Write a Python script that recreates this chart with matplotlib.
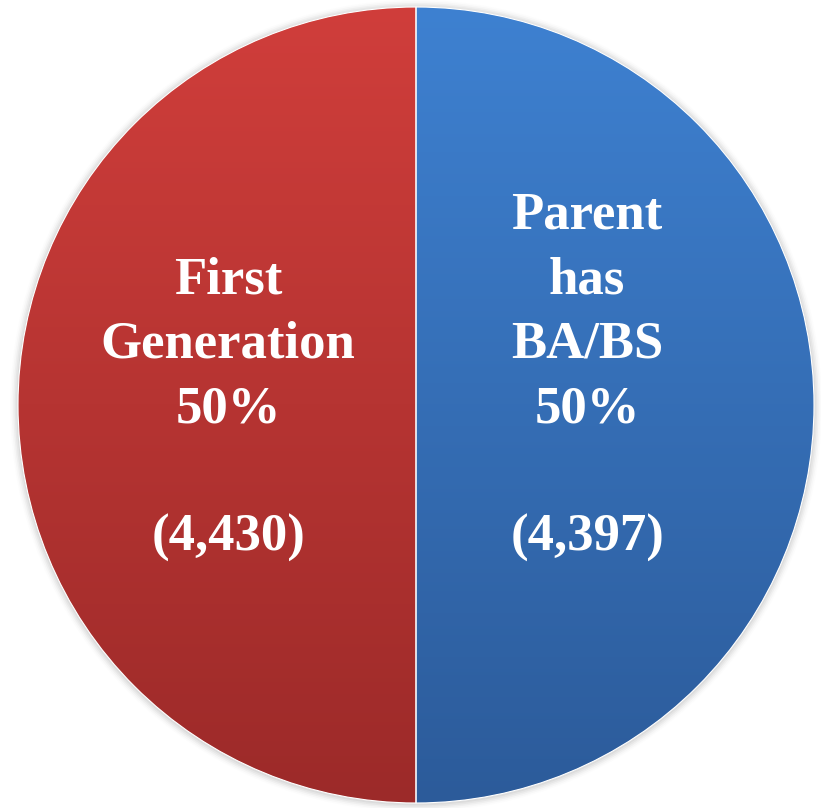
import matplotlib.pyplot as plt
import numpy as np
from matplotlib.colors import LinearSegmentedColormap
from matplotlib.patches import Circle

labels = [['First', 'Generation'], ['Parent', 'has', 'BA/BS']]
shares = [50, 50]
counts = [4430, 4397]
tops = ['#d03e3b', '#3e81d1']
bottoms = ['#9c2a29', '#2c5b9a']

fig = plt.figure(figsize=(8.21, 8.08), dpi=100)
ax = fig.add_axes([0, 0, 1, 1])

# soft shadow round the pie
for i, a in enumerate([0.10, 0.08, 0.06, 0.04, 0.02]):
    ax.add_patch(Circle((0, -0.002), 1.0 + 0.004 * (i + 1), color='#808080', alpha=a, lw=0, zorder=0))

wedges, _ = ax.pie(shares, radius=1, startangle=90, counterclock=True,
                   colors=tops, wedgeprops=dict(edgecolor='white', linewidth=0.8))

grad = np.linspace(0, 1, 256).reshape(-1, 1)
for w, top, bot in zip(wedges, tops, bottoms):
    cmap = LinearSegmentedColormap.from_list('g', [top, bot])
    im = ax.imshow(grad, cmap=cmap, extent=(-1, 1, -1, 1), origin='upper',
                   aspect='auto', zorder=1)
    im.set_clip_path(w)
    w.set_facecolor('none')
    w.set_zorder(2)

font = dict(family='Liberation Serif', weight='bold', size=38, color='white',
            ha='center', va='baseline', zorder=3)
step = 0.162          # line step in axis units
pct_y = -0.043        # baseline of the "50%" line
xs = [-0.472, 0.430]
for x, lab, sh, n in zip(xs, labels, shares, counts):
    lines = lab + [f"{sh}%"]
    for k, line in enumerate(lines):
        ax.text(x, pct_y + step * (len(lines) - 1 - k), line, **font)
    ax.text(x, pct_y - 2 * step, f"({n:,})", **font)

ax.set_xlim(-416 / 398, 405 / 398)
ax.set_ylim(-403 / 398, 405 / 398)
ax.set_aspect('auto')
ax.axis('off')

plt.savefig('out.png', dpi=100)
